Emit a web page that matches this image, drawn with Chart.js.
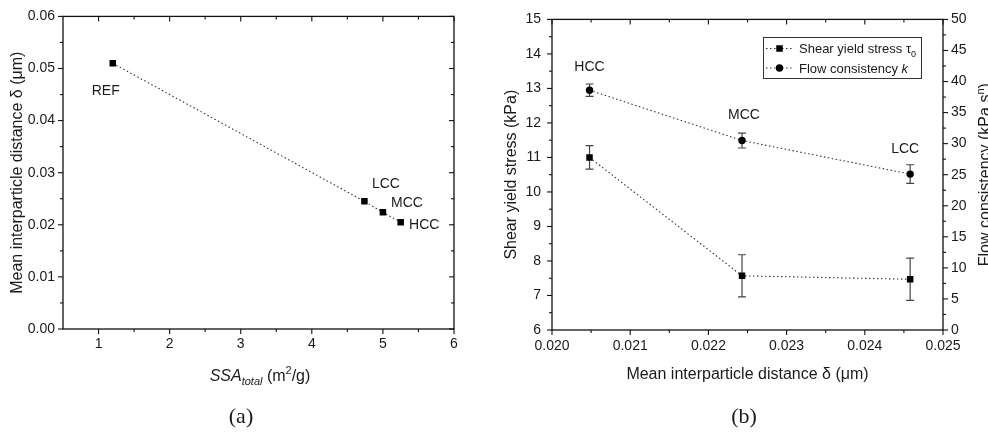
<!DOCTYPE html>
<html><head><meta charset="utf-8">
<script src="https://cdn.jsdelivr.net/npm/chart.js@4.4.1/dist/chart.umd.min.js"></script>
<style>
html,body{margin:0;padding:0;background:#fff;}
#wrap{position:relative;width:988px;height:433px;overflow:hidden;background:#fff;}
canvas{position:absolute;top:0;}
#c1{left:0;} #c2{left:490px;}
</style></head><body>
<div id="wrap"><canvas id="c1" width="490" height="433"></canvas><canvas id="c2" width="498" height="433"></canvas></div>
<script>
// ---------------- data ----------------
const samplesA = ['REF', 'LCC', 'MCC', 'HCC'];
const ssaTotal = [1.2, 4.74, 5.0, 5.25];
const deltaA = [0.051, 0.0245, 0.0224, 0.0205];
const xTicksA = [1, 2, 3, 4, 5, 6];
const yTicksA = [0, 0.01, 0.02, 0.03, 0.04, 0.05, 0.06];

const samplesB = ['HCC', 'MCC', 'LCC'];
const deltaB = [0.02048, 0.02243, 0.02458];
const tau0 = [11.0, 7.57, 7.47];
const tau0Err = [0.34, 0.61, 0.61];
const kFlow = [38.6, 30.5, 25.1];
const kFlowErr = [1.0, 1.2, 1.5];
const xTicksB = [0.020, 0.021, 0.022, 0.023, 0.024, 0.025];
const yTicksB = [6, 7, 8, 9, 10, 11, 12, 13, 14, 15];
const y1TicksB = [0, 5, 10, 15, 20, 25, 30, 35, 40, 45, 50];

// ---------------- style helpers ----------------
const FONT = "'Liberation Sans', Arial, sans-serif";
const SERIF = "'Liberation Serif', 'Times New Roman', serif";
const INK = '#1a1a1a';

function segFont(s, base) {
  const size = (s.sub || s.sup) ? Math.round(base * 0.68) : base;
  return (s.it ? 'italic ' : '') + size + 'px ' + (s.serif ? SERIF : FONT);
}
function drawRich(ctx, segs, cx, cy, base) {
  ctx.textBaseline = 'alphabetic'; ctx.textAlign = 'left';
  let w = 0;
  const ws = segs.map(s => { ctx.font = segFont(s, base); const m = ctx.measureText(s.t).width; w += m; return m; });
  let x = cx - w / 2;
  const by = cy + base * 0.35;
  segs.forEach((s, i) => {
    ctx.font = segFont(s, base);
    const dy = s.sub ? base * 0.28 : (s.sup ? -base * 0.4 : 0);
    ctx.fillText(s.t, x, by + dy);
    x += ws[i];
  });
}
function midpoints(a) { const r = []; for (let i = 0; i < a.length - 1; i++) r.push((a[i] + a[i + 1]) / 2); return r; }

// ---------------- plugins ----------------
const frameTicks = {
  id: 'frameTicks',
  afterDraw(chart, args, opts) {
    const { ctx, chartArea: ca } = chart;
    ctx.save();
    ctx.strokeStyle = '#111'; ctx.lineWidth = 1.3;
    ctx.strokeRect(ca.left, ca.top, ca.right - ca.left, ca.bottom - ca.top);
    ctx.lineWidth = 1.1;
    for (const a of opts.axes) {
      const sc = chart.scales[a.id];
      const vals = a.major.map(v => [v, 5]).concat(midpoints(a.major).map(v => [v, 3]));
      for (const [v, len] of vals) {
        const p = sc.getPixelForValue(v);
        for (const e of a.edges) {
          ctx.beginPath();
          if (e.side === 'bottom') { ctx.moveTo(p, ca.bottom); ctx.lineTo(p, ca.bottom + e.sign * len); }
          else if (e.side === 'top') { ctx.moveTo(p, ca.top); ctx.lineTo(p, ca.top + e.sign * len); }
          else if (e.side === 'left') { ctx.moveTo(ca.left, p); ctx.lineTo(ca.left + e.sign * len, p); }
          else { ctx.moveTo(ca.right, p); ctx.lineTo(ca.right + e.sign * len, p); }
          ctx.stroke();
        }
      }
    }
    ctx.restore();
  }
};

const errorBars = {
  id: 'errorBars',
  beforeDatasetsDraw(chart) {
    const ctx = chart.ctx;
    chart.data.datasets.forEach((ds, i) => {
      if (!ds.errors) return;
      const meta = chart.getDatasetMeta(i);
      const ys = chart.scales[ds.yAxisID || 'y'];
      ctx.save();
      ctx.strokeStyle = '#444'; ctx.lineWidth = 1.2;
      meta.data.forEach((pt, j) => {
        const v = ds.data[j].y, e = ds.errors[j];
        const t = ys.getPixelForValue(v + e), b = ys.getPixelForValue(v - e);
        ctx.beginPath();
        ctx.moveTo(pt.x, t); ctx.lineTo(pt.x, b);
        ctx.moveTo(pt.x - 4, t); ctx.lineTo(pt.x + 4, t);
        ctx.moveTo(pt.x - 4, b); ctx.lineTo(pt.x + 4, b);
        ctx.stroke();
      });
      ctx.restore();
    });
  }
};

const pointNames = {
  id: 'pointNames',
  afterDatasetsDraw(chart, args, opts) {
    const ctx = chart.ctx;
    ctx.save();
    ctx.fillStyle = INK; ctx.font = '14px ' + FONT;
    ctx.textAlign = 'center'; ctx.textBaseline = 'middle';
    const ds = chart.data.datasets[opts.dataset];
    const meta = chart.getDatasetMeta(opts.dataset);
    meta.data.forEach((pt, j) => {
      const o = opts.offsets[j];
      ctx.fillText(ds.pointNames[j], pt.x + o[0], pt.y + o[1]);
    });
    ctx.restore();
  }
};

const extraText = {
  id: 'extraText',
  afterDraw(chart, args, opts) {
    const ctx = chart.ctx;
    const ca = chart.chartArea;
    ctx.save();
    ctx.fillStyle = INK;
    for (const it of opts.items) {
      const cy = it.y === 'mid' ? (ca.top + ca.bottom) / 2 : it.y;
      ctx.save();
      ctx.translate(it.x, cy);
      if (it.rot) ctx.rotate(it.rot);
      drawRich(ctx, it.segs, 0, 0, it.size);
      ctx.restore();
    }
    ctx.restore();
  }
};

const boxLegend = {
  id: 'boxLegend',
  afterDraw(chart, args, opts) {
    if (!opts.box) return;
    const ctx = chart.ctx;
    const [bx, by, bw, bh] = opts.box;
    ctx.save();
    ctx.strokeStyle = '#333'; ctx.lineWidth = 1;
    ctx.strokeRect(bx + 0.5, by + 0.5, bw, bh);
    opts.rows.forEach(r => {
      const ds = chart.data.datasets[r.ds];
      ctx.save();
      ctx.strokeStyle = ds.borderColor; ctx.lineWidth = ds.borderWidth; ctx.setLineDash(ds.borderDash);
      ctx.beginPath(); ctx.moveTo(bx + 3, r.y); ctx.lineTo(bx + 30, r.y); ctx.stroke();
      ctx.restore();
      ctx.fillStyle = '#000';
      ctx.beginPath();
      if (ds.pointStyle === 'rect') {
        const s = ds.pointRadius * Math.SQRT1_2;
        ctx.rect(bx + 16.5 - s, r.y - s, 2 * s, 2 * s);
      } else {
        ctx.arc(bx + 16.5, r.y, ds.pointRadius, 0, Math.PI * 2);
      }
      ctx.fill();
      ctx.fillStyle = INK;
      ctx.textBaseline = 'alphabetic'; ctx.textAlign = 'left';
      let x = bx + 36;
      r.segs.forEach(s => {
        ctx.font = segFont(s, 13);
        const dy = s.sub ? 13 * 0.28 : (s.sup ? -13 * 0.4 : 0);
        ctx.fillText(s.t, x, r.y + 13 * 0.35 + dy);
        x += ctx.measureText(s.t).width;
      });
    });
    ctx.restore();
  }
};

const tickFont = { family: FONT, size: 14 };
const titleFont = { family: FONT, size: 16 };
const noGrid = { display: false, drawTicks: false, tickLength: 0 };
const lineStyle = { showLine: true, borderColor: '#333', borderWidth: 1.1, borderDash: [1.5, 2.5], pointBackgroundColor: '#000', pointBorderWidth: 0 };

// ---------------- chart (a) ----------------
new Chart(document.getElementById('c1'), {
  type: 'scatter',
  data: {
    datasets: [Object.assign({
      label: 'Mean interparticle distance',
      data: ssaTotal.map((x, i) => ({ x, y: deltaA[i] })),
      pointNames: samplesA,
      pointStyle: 'rect', pointRadius: 4.6, pointHoverRadius: 4.6
    }, lineStyle)]
  },
  options: {
    responsive: false, animation: false, events: [],
    layout: { padding: { left: 0, right: 36, top: 15, bottom: 0 } },
    plugins: {
      legend: { display: false }, tooltip: { enabled: false },
      frameTicks: { axes: [
        { id: 'x', major: xTicksA, edges: [{ side: 'bottom', sign: 1 }, { side: 'top', sign: 1 }] },
        { id: 'y', major: yTicksA, edges: [{ side: 'left', sign: -1 }, { side: 'right', sign: -1 }] }
      ] },
      pointNames: { dataset: 0, offsets: [[-7, 28], [21.5, -17], [24, -9], [23.5, 2.5]] },
      extraText: { items: [
        { x: 260, y: 375, size: 16, segs: [{ t: 'SSA', it: 1 }, { t: 'total', it: 1, sub: 1 }, { t: ' (m' }, { t: '2', sup: 1 }, { t: '/g)' }] },
        { x: 241, y: 415, size: 22, segs: [{ t: '(a)', serif: 1 }] }
      ] }
    },
    scales: {
      x: {
        type: 'linear', min: 0.5, max: 6,
        afterBuildTicks: s => { s.ticks = xTicksA.map(v => ({ value: v })); },
        afterFit: s => { s.height = 104; },
        grid: noGrid, border: { display: false },
        ticks: { padding: 7, color: INK, font: tickFont, callback: v => String(v) }
      },
      y: {
        type: 'linear', min: 0, max: 0.06,
        afterBuildTicks: s => { s.ticks = yTicksA.map(v => ({ value: v })); },
        afterFit: s => { s.width = 63; },
        grid: noGrid, border: { display: false },
        ticks: { padding: 8, color: INK, font: tickFont, callback: v => v.toFixed(2) },
        title: { display: true, text: 'Mean interparticle distance δ (μm)', color: INK, font: titleFont, padding: { top: 8.4, bottom: 0 } }
      }
    }
  },
  plugins: [frameTicks, errorBars, pointNames, extraText]
});

// ---------------- chart (b) ----------------
new Chart(document.getElementById('c2'), {
  type: 'scatter',
  data: {
    datasets: [
      Object.assign({
        label: 'Shear yield stress τ0',
        data: deltaB.map((x, i) => ({ x, y: tau0[i] })),
        errors: tau0Err, yAxisID: 'y',
        pointStyle: 'rect', pointRadius: 4.6, pointHoverRadius: 4.6
      }, lineStyle),
      Object.assign({
        label: 'Flow consistency k',
        data: deltaB.map((x, i) => ({ x, y: kFlow[i] })),
        errors: kFlowErr, yAxisID: 'y1',
        pointNames: samplesB,
        pointStyle: 'circle', pointRadius: 3.7, pointHoverRadius: 3.7
      }, lineStyle)
    ]
  },
  options: {
    responsive: false, animation: false, events: [],
    layout: { padding: { left: 0, right: 0, top: 15, bottom: 0 } },
    plugins: {
      legend: { display: false }, tooltip: { enabled: false },
      frameTicks: { axes: [
        { id: 'x', major: xTicksB, edges: [{ side: 'bottom', sign: 1 }, { side: 'top', sign: 1 }] },
        { id: 'y', major: yTicksB, edges: [{ side: 'left', sign: -1 }] },
        { id: 'y1', major: y1TicksB, edges: [{ side: 'right', sign: 1 }] }
      ] },
      pointNames: { dataset: 1, offsets: [[0, -23], [2, -25], [-5, -24.5]] },
      extraText: { items: [
        { x: 494.5, y: 'mid', rot: -Math.PI / 2, size: 16, segs: [{ t: 'Flow consistency (kPa s' }, { t: 'n', sup: 1 }, { t: ')' }] },
        { x: 254, y: 415, size: 22, segs: [{ t: '(b)', serif: 1 }] }
      ] },
      boxLegend: {
        box: [273, 37, 158, 41],
        rows: [
          { ds: 0, y: 48.5, segs: [{ t: 'Shear yield stress τ' }, { t: '0', sub: 1 }] },
          { ds: 1, y: 68, segs: [{ t: 'Flow consistency ' }, { t: 'k', it: 1 }] }
        ]
      }
    },
    scales: {
      x: {
        type: 'linear', min: 0.020, max: 0.025,
        afterBuildTicks: s => { s.ticks = xTicksB.map(v => ({ value: v })); },
        afterFit: s => { s.height = 103; },
        grid: noGrid, border: { display: false },
        ticks: { padding: 8, color: INK, font: tickFont, callback: v => v.toFixed(3) },
        title: { display: true, text: 'Mean interparticle distance δ (μm)', color: INK, font: titleFont, padding: { top: 0, bottom: 48.5 } }
      },
      y: {
        type: 'linear', position: 'left', min: 6, max: 15,
        afterBuildTicks: s => { s.ticks = yTicksB.map(v => ({ value: v })); },
        afterFit: s => { s.width = 62; },
        grid: noGrid, border: { display: false },
        ticks: { padding: 11, color: INK, font: tickFont, callback: v => String(v) },
        title: { display: true, text: 'Shear yield stress (kPa)', color: INK, font: titleFont, padding: { top: 12, bottom: 0 } }
      },
      y1: {
        type: 'linear', position: 'right', min: 0, max: 50,
        afterBuildTicks: s => { s.ticks = y1TicksB.map(v => ({ value: v })); },
        afterFit: s => { s.width = 45; },
        grid: noGrid, border: { display: false },
        ticks: { padding: 8, color: INK, font: tickFont, callback: v => String(v) }
      }
    }
  },
  plugins: [frameTicks, errorBars, pointNames, extraText, boxLegend]
});
</script>
</body></html>
